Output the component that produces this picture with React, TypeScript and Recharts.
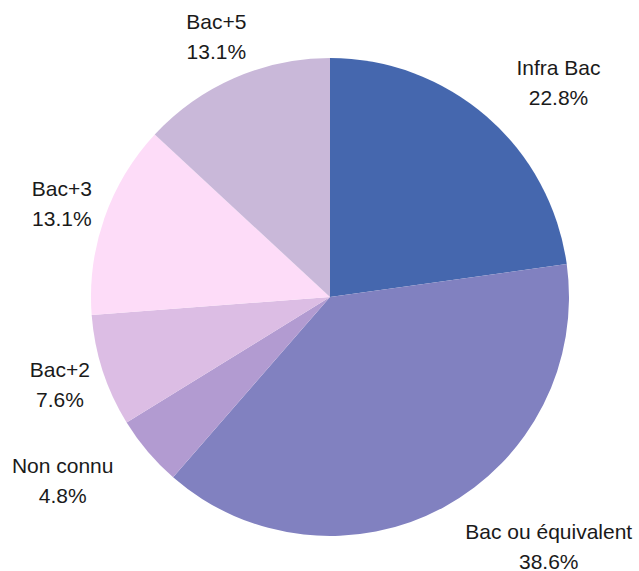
import React from 'react';
import { PieChart, Pie, Cell } from 'recharts';

const categories = ['Infra Bac', 'Bac ou équivalent', 'Non connu', 'Bac+2', 'Bac+3', 'Bac+5'];
const shares = [22.8, 38.6, 4.8, 7.6, 13.1, 13.1];
const colors = ['#4567ae', '#8181c0', '#b29bd1', '#dcbde4', '#fddcf8', '#c9b8d9'];
// which side of the anchor point each label block sits on
const labelAlign = ['start', 'start', 'end', 'middle', 'middle', 'middle'];

const data = categories.map((name, i) => ({ name, value: shares[i] }));

const RADIAN = Math.PI / 180;
const FONT = "21px 'Liberation Sans'";

let ctx: CanvasRenderingContext2D | null = null;
const textWidth = (s: string) => {
  if (!ctx) ctx = document.createElement('canvas').getContext('2d');
  if (!ctx) return s.length * 10;
  ctx.font = FONT;
  return ctx.measureText(s).width;
};

const renderLabel = (props: any) => {
  const { cx, cy, midAngle, outerRadius, index } = props;
  const r = outerRadius + 45;
  const ax = cx + r * Math.cos(-midAngle * RADIAN);
  const y = cy + r * Math.sin(-midAngle * RADIAN);
  const line1 = categories[index];
  const line2 = shares[index].toFixed(1) + '%';
  const w = Math.max(textWidth(line1), textWidth(line2));
  const align = labelAlign[index];
  const x = align === 'start' ? ax + w / 2 : align === 'end' ? ax - w / 2 : ax;
  return (
    <text
      x={x}
      y={y}
      textAnchor="middle"
      fill="#1a1a1a"
      fontSize={21}
      fontFamily="'Liberation Sans', Arial, sans-serif"
    >
      <tspan x={x} dy={-7.5}>{line1}</tspan>
      <tspan x={x} dy={30}>{line2}</tspan>
    </text>
  );
};

export default function App() {
  return (
    <div style={{ position: 'absolute', left: 0, top: 0, width: 639, height: 571, background: '#fff' }}>
      <PieChart width={639} height={571}>
        <Pie
          data={data}
          dataKey="value"
          nameKey="name"
          cx={325}
          cy={292}
          outerRadius={239}
          startAngle={90}
          endAngle={-270}
          stroke="none"
          label={renderLabel}
          labelLine={false}
          isAnimationActive={false}
        >
          {data.map((d, i) => (
            <Cell key={d.name} fill={colors[i]} />
          ))}
        </Pie>
      </PieChart>
    </div>
  );
}
